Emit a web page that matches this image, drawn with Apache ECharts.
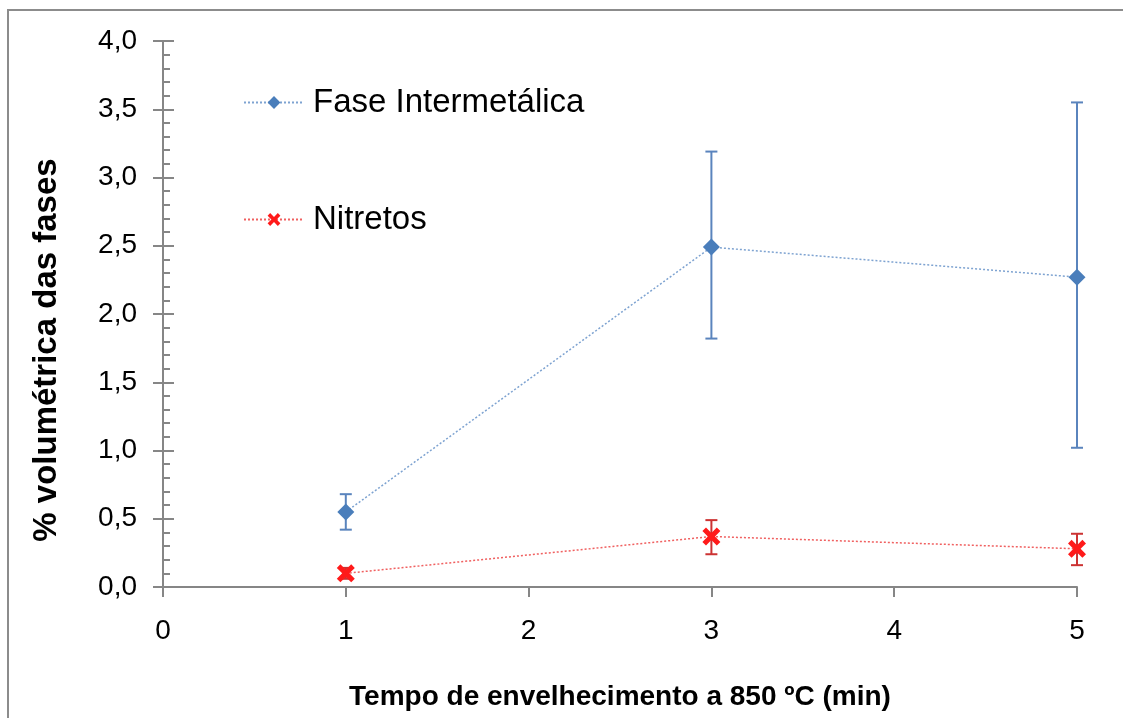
<!DOCTYPE html>
<html>
<head>
<meta charset="utf-8">
<script src="https://cdn.jsdelivr.net/npm/echarts@6/dist/echarts.min.js"></script>
<style>html,body{margin:0;padding:0;background:#fff}#c{width:1123px;height:718px}</style>
</head>
<body>
<div id="c"></div>
<script>
const times = [1, 3, 5];
const faseValues = [0.55, 2.49, 2.27];
const faseLow = [0.42, 1.82, 1.02];
const faseHigh = [0.68, 3.19, 3.55];
const nitretosValues = [0.10, 0.37, 0.28];
const nitretosLow = [0.06, 0.24, 0.16];
const nitretosHigh = [0.14, 0.49, 0.39];
const seriesNames = ['Fase Intermetálica', 'Nitretos'];
const xTitle = 'Tempo de envelhecimento a 850 ºC (min)';
const yTitle = '% volumétrica das fases';

const FONT = '"Liberation Sans", Arial, sans-serif';
const xShape = 'path://M2,0 L5,3 L8,0 L10,2 L7,5 L10,8 L8,10 L5,7 L2,10 L0,8 L3,5 L0,2 Z';

function errData(lo, hi) {
  return times.map((t, i) => [t, lo[i], hi[i]]);
}
function errRender(color) {
  return function (params, api) {
    const x = api.value(0);
    const lo = api.coord([x, api.value(1)]);
    const hi = api.coord([x, api.value(2)]);
    const w = 6;
    const style = { stroke: color, lineWidth: 2 };
    return {
      type: 'group',
      children: [
        { type: 'line', shape: { x1: lo[0], y1: lo[1], x2: hi[0], y2: hi[1] }, style },
        { type: 'line', shape: { x1: lo[0] - w, y1: lo[1], x2: lo[0] + w, y2: lo[1] }, style },
        { type: 'line', shape: { x1: hi[0] - w, y1: hi[1], x2: hi[0] + w, y2: hi[1] }, style }
      ]
    };
  };
}

const chart = echarts.init(document.getElementById('c'));
chart.setOption({
  animation: false,
  backgroundColor: '#fff',
  graphic: [{
    type: 'rect',
    shape: { x: 8, y: 10, width: 1200, height: 800 },
    style: { fill: 'none', stroke: '#8c8c8c', lineWidth: 2 },
    silent: true
  }],
  grid: { left: 163, top: 41, right: 46, bottom: 131 },
  legend: {
    orient: 'vertical',
    left: 238,
    top: 81,
    itemWidth: 60,
    itemHeight: 16,
    itemGap: 84,
    data: seriesNames,
    textStyle: { fontFamily: FONT, fontSize: 33, color: '#000', padding: [0, 0, 0, 4] }
  },
  xAxis: {
    type: 'value',
    min: 0, max: 5, interval: 1,
    name: xTitle,
    nameLocation: 'middle',
    nameGap: 96,
    nameTextStyle: { fontFamily: FONT, fontSize: 28, fontWeight: 'bold', color: '#000' },
    axisLine: { onZero: false, lineStyle: { color: '#868686', width: 2 } },
    axisTick: { show: true, length: 10, lineStyle: { color: '#868686', width: 2 } },
    axisLabel: { fontFamily: FONT, fontSize: 28, color: '#000', margin: 30 },
    splitLine: { show: false }
  },
  yAxis: [{
    type: 'value',
    min: 0, max: 4, interval: 0.5,
    name: yTitle,
    nameLocation: 'middle',
    nameGap: 100,
    nameTextStyle: { fontFamily: FONT, fontSize: 33, fontWeight: 'bold', color: '#000', padding: [0, 72, 0, 0] },
    axisLine: { show: true, lineStyle: { color: '#868686', width: 2 } },
    axisTick: { show: true, inside: true, length: 11, lineStyle: { color: '#868686', width: 2 } },
    minorTick: { show: true, splitNumber: 5, length: 7, lineStyle: { color: '#868686', width: 2 } },
    axisLabel: { fontFamily: FONT, fontSize: 28, color: '#000', margin: 26, formatter: v => v.toFixed(1).replace('.', ',') },
    splitLine: { show: false }
  }, {
    type: 'value',
    position: 'left',
    min: 0, max: 4, interval: 0.5,
    axisLine: { show: false },
    axisTick: { show: true, inside: false, length: 10, lineStyle: { color: '#868686', width: 2 } },
    axisLabel: { show: false },
    splitLine: { show: false }
  }],
  series: [
    {
      type: 'custom',
      name: 'errFase',
      renderItem: errRender('#5a84bd'),
      data: errData(faseLow, faseHigh),
      encode: { x: 0, y: [1, 2] },
      z: 1
    },
    {
      type: 'custom',
      name: 'errNit',
      renderItem: errRender('#cc3333'),
      data: errData(nitretosLow, nitretosHigh),
      encode: { x: 0, y: [1, 2] },
      z: 1
    },
    {
      name: seriesNames[0],
      type: 'line',
      data: times.map((t, i) => [t, faseValues[i]]),
      symbol: 'diamond',
      symbolSize: 17,
      itemStyle: { color: '#4a7ebb' },
      lineStyle: { color: '#7ea3d1', width: 1.5, type: [2, 2] },
      z: 3
    },
    {
      name: seriesNames[1],
      type: 'line',
      data: times.map((t, i) => [t, nitretosValues[i]]),
      symbol: xShape,
      symbolSize: 18,
      itemStyle: { color: '#ff1a1a' },
      lineStyle: { color: '#f06060', width: 1.5, type: [2, 2] },
      z: 3
    }
  ]
});
</script>
</body>
</html>
